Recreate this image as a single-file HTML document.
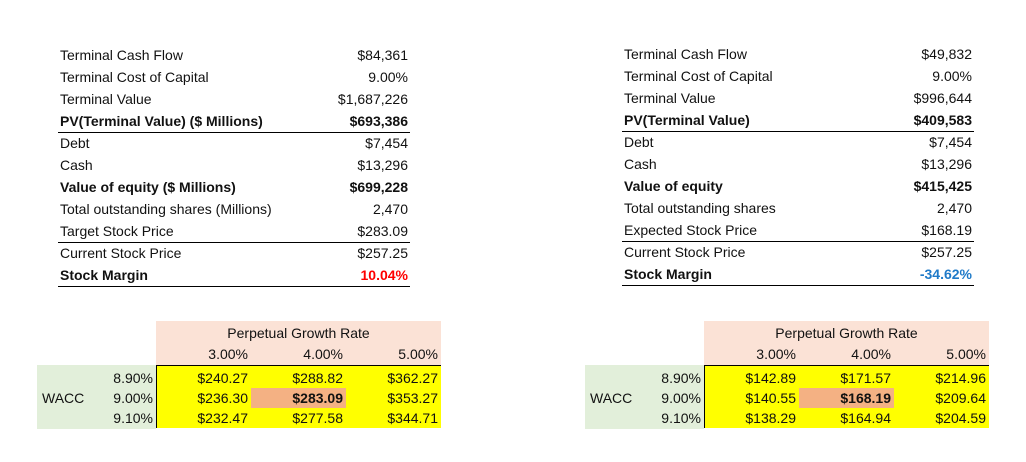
<!DOCTYPE html>
<html><head><meta charset="utf-8"><style>
body{margin:0;width:1026px;height:462px;background:#fff;font-family:"Liberation Sans",sans-serif;font-size:14px;color:#111;position:relative;overflow:hidden}
.t{position:absolute;white-space:nowrap;line-height:22px}
.r{text-align:right}
.b{font-weight:bold}
.line{position:absolute;height:1px;background:#000}
.box{position:absolute}
</style></head><body>
<div id="root"></div>
<script>
const leftLabels=["Terminal Cash Flow","Terminal Cost of Capital","Terminal Value","PV(Terminal Value) ($ Millions)","Debt","Cash","Value of equity ($ Millions)","Total outstanding shares (Millions)","Target Stock Price","Current Stock Price","Stock Margin"];
const leftValues=["$84,361","9.00%","$1,687,226","$693,386","$7,454","$13,296","$699,228","2,470","$283.09","$257.25","10.04%"];
const rightLabels=["Terminal Cash Flow","Terminal Cost of Capital","Terminal Value","PV(Terminal Value)","Debt","Cash","Value of equity","Total outstanding shares","Expected Stock Price","Current Stock Price","Stock Margin"];
const rightValues=["$49,832","9.00%","$996,644","$409,583","$7,454","$13,296","$415,425","2,470","$168.19","$257.25","-34.62%"];
const boldRows=[3,6,10];
const growthRates=["3.00%","4.00%","5.00%"];
const waccRates=["8.90%","9.00%","9.10%"];
const leftGrid=[["$240.27","$288.82","$362.27"],["$236.30","$283.09","$353.27"],["$232.47","$277.58","$344.71"]];
const rightGrid=[["$142.89","$171.57","$214.96"],["$140.55","$168.19","$209.64"],["$138.29","$164.94","$204.59"]];
const root=document.body;
function el(cls,style,text){const d=document.createElement('div');d.className=cls;d.setAttribute('style',style);if(text!==undefined)d.textContent=text;root.appendChild(d);return d;}
function summary(x0,xr,labels,values,marginColor,side){
  for(let i=0;i<labels.length;i++){
    const y=44+i*22-(side==='right'?1:0);
    const bold=boldRows.includes(i)?' b':'';
    const a=el('t'+bold,`left:${x0}px;top:${y}px`,labels[i]);
    
    
    const v=el('t r'+bold,`left:${xr-150}px;width:150px;top:${y}px;`+(i===10?`color:${marginColor}`:''),values[i]);
    
    
  }
  const yo=side==='right'?-1:0;
  [132,242,286].forEach((y,k)=>{const l=el('line',`left:${x0-2}px;width:${xr-x0+4}px;top:${y+yo}px`);
    
    });
}
summary(60,408,leftLabels,leftValues,'#ff0000','left');
summary(624,972,rightLabels,rightValues,'#1f7ac8','right');
function sens(dx,grid,side){
  let b=el('box',`left:${156+dx}px;top:${321}px;width:285px;height:44px;background:#fbe2d6`);
  
  
  b=el('box',`left:${37+dx}px;top:365px;width:119px;height:64px;background:#e2efda`);
  
  
  b=el('box',`left:${156+dx}px;top:365px;width:285px;height:63px;background:#ffff00;border-left:1px solid #000;border-top:1px solid #000;box-sizing:border-box`);
  
  
  b=el('box',`left:${251+dx}px;top:388px;width:95px;height:20px;background:#f4b183`);
  
  
  let t=el('t',`left:${156+dx}px;width:285px;text-align:center;top:322px`,'Perpetual Growth Rate');
  
  
  growthRates.forEach((g,j)=>{const c=el('t r',`left:${148+dx+j*95}px;width:100px;top:343px`,g);
    
    });
  t=el('t',`left:${42+dx}px;top:387px`,'WACC');
  
  
  waccRates.forEach((w,i)=>{const c=el('t r',`left:${53+dx}px;width:100px;top:${367+i*20}px`,w);
    
    
    grid[i].forEach((v,j)=>{const d=el('t r'+(i===1&&j===1?' b':''),`left:${148+dx+j*95}px;width:100px;top:${367+i*20}px`,v);
      
      });
  });
}
sens(0,leftGrid,'left');
sens(548,rightGrid,'right');
</script>
</body></html>
